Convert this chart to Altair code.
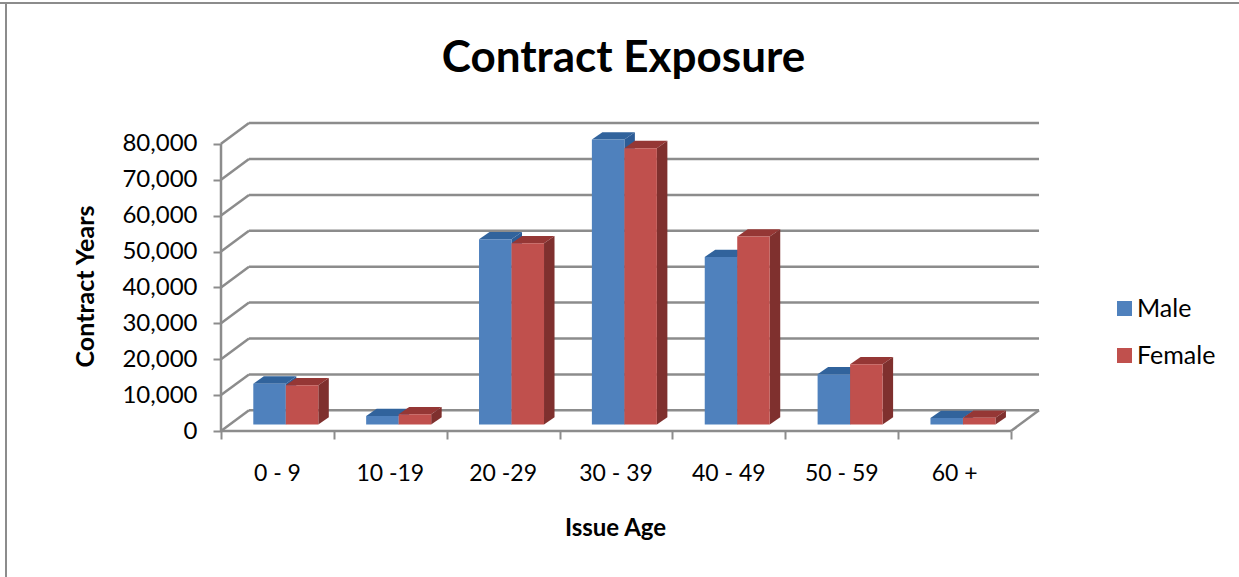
import altair as alt
import pandas as pd

# Contract years by issue age and sex
ages = ["0 - 9", "10 -19", "20 -29", "30 - 39", "40 - 49", "50 - 59", "60 +"]
male = [11400, 2400, 51600, 79400, 46700, 14000, 1850]
female = [10950, 2900, 50500, 77000, 52400, 16800, 1900]
y_ticks = [0, 10000, 20000, 30000, 40000, 50000, 60000, 70000, 80000]

FONT = "Lato"
GREY = "#8c8c8c"
PX_X = 112.86   # pixels per category
PX_Y = 35.9 / 10000   # pixels per contract year
WIDTH, HEIGHT = 819, 308

# Depth of the floor/back wall and of the bars, in data units
WALL_DX, WALL_DY = 28 / PX_X, 20.7 / PX_Y
BAR_DX, BAR_DY = 10.5 / PX_X, 7.3 / PX_Y
BASE_DX, BASE_DY = 32.3 / PX_X, 6.4 / PX_Y
BAR_W = 32.5 / PX_X

xs = alt.Scale(domain=[0, WIDTH / PX_X], nice=False, zero=False)
ys = alt.Scale(domain=[0, HEIGHT / PX_Y], nice=False, zero=False)

x_axis = alt.Axis(
    values=list(range(8)), labels=False, domain=False, grid=False,
    tickColor=GREY, tickWidth=2, tickSize=8,
    title="Issue Age", titleFont=FONT, titleFontSize=24, titleFontWeight="bold",
    titleColor="#000000", titleX=394, titleY=97, titleBaseline="middle",
)
y_axis = alt.Axis(
    values=y_ticks, labelExpr="format(datum.value, ',')", domain=False, grid=False,
    tickColor=GREY, tickWidth=2, tickSize=8, labelPadding=16,
    labelFont=FONT, labelFontSize=24, labelColor="#000000",
    title="Contract Years", titleFont=FONT, titleFontSize=25, titleFontWeight="bold",
    titleColor="#000000", titleX=-136, titleY=163, titleAngle=270,
    titleBaseline="middle",
)


def X(field):
    return alt.X(field, type="quantitative", scale=xs, axis=x_axis)


def Y(field):
    return alt.Y(field, type="quantitative", scale=ys, axis=y_axis)


# Wall and floor lines
lines = []
for v in y_ticks:
    lines.append(dict(x0=0, y0=v, x1=WALL_DX, y1=v + WALL_DY))
    lines.append(dict(x0=WALL_DX, y0=v + WALL_DY, x1=7 + WALL_DX, y1=v + WALL_DY))
lines.append(dict(x0=0, y0=0, x1=7, y1=0))
lines.append(dict(x0=7, y0=0, x1=7 + WALL_DX, y1=WALL_DY))
lines.append(dict(x0=0, y0=0, x1=0, y1=y_ticks[-1]))

grid = (
    alt.Chart(pd.DataFrame(lines))
    .mark_rule(color=GREY, strokeWidth=2.5)
    .encode(x=X("x0"), x2="x1", y=Y("y0"), y2="y1")
)

# Outer border: top and left edges of the chart area only
frame_top = alt.Chart(pd.DataFrame({"a": [0]})).mark_rule(color=GREY, strokeWidth=2).encode(
    x=alt.value(-221), x2=alt.value(WIDTH + 199), y=alt.value(-120)
)
frame_left = alt.Chart(pd.DataFrame({"a": [0]})).mark_rule(color=GREY, strokeWidth=2).encode(
    x=alt.value(-215), y=alt.value(-121), y2=alt.value(HEIGHT + 146)
)

palette = {
    "Male": dict(top="#31639c", side="#2c5c96", offset=0.0),
    "Female": dict(top="#953735", side="#7f302e", offset=BAR_W),
}

layers = [frame_top, frame_left, grid]
for series, values in (("Male", male), ("Female", female)):
    style = palette[series]
    tops, sides, fronts = [], [], []
    for i, v in enumerate(values):
        x0 = i + BASE_DX + style["offset"]
        x1 = x0 + BAR_W
        low, high = BASE_DY, BASE_DY + v
        tops += [
            dict(bar=i, y=high, a=x0, b=x1),
            dict(bar=i, y=high + BAR_DY, a=x0 + BAR_DX, b=x1 + BAR_DX),
        ]
        sides += [
            dict(bar=i, x=x1, lo=low, hi=high),
            dict(bar=i, x=x1 + BAR_DX, lo=low + BAR_DY, hi=high + BAR_DY),
        ]
        fronts.append(dict(series=series, x0=x0, x1=x1, lo=low, hi=high))

    layers.append(
        alt.Chart(pd.DataFrame(tops))
        .mark_area(orient="horizontal", color=style["top"])
        .encode(x=X("a"), x2="b", y=Y("y"), detail="bar:N")
    )
    layers.append(
        alt.Chart(pd.DataFrame(sides))
        .mark_area(orient="vertical", color=style["side"])
        .encode(x=X("x"), y=Y("lo"), y2="hi", detail="bar:N")
    )
    layers.append(
        alt.Chart(pd.DataFrame(fronts))
        .mark_rect()
        .encode(
            x=X("x0"),
            x2="x1",
            y=Y("lo"),
            y2="hi",
            color=alt.Color(
                "series:N",
                scale=alt.Scale(domain=["Male", "Female"], range=["#4f81bd", "#c0504d"]),
                legend=alt.Legend(
                    title=None, orient="none", legendX=891, legendY=173,
                    symbolType="square", symbolSize=225, symbolStrokeWidth=0,
                    labelFont=FONT, labelFontSize=25, labelColor="#000000",
                    rowPadding=21, labelOffset=0,
                ),
            ),
        )
    )

# Category names centred under each group on the front edge of the floor
labels = pd.DataFrame({"age": ages, "x": [i + 0.5 for i in range(len(ages))], "y": 0})
layers.append(
    alt.Chart(labels)
    .mark_text(font=FONT, fontSize=23, color="#000000", dy=43)
    .encode(x=X("x"), y=Y("y"), text="age:N")
)

chart = (
    alt.layer(*layers)
    .properties(
        width=WIDTH,
        height=HEIGHT,
        background="#ffffff",
        padding={"left": 221, "top": 123, "right": 199, "bottom": 146},
        autosize=alt.AutoSizeParams(type="none"),
        title=alt.TitleParams(
            "Contract Exposure", font=FONT, fontSize=44, fontWeight="bold", color="#000000",
            anchor="middle", dx=-7, offset=-80,
        ),
    )
    .configure_view(strokeWidth=0, stroke="transparent")
)

chart.save("out.html", embed_options={"renderer": "svg", "actions": False})
